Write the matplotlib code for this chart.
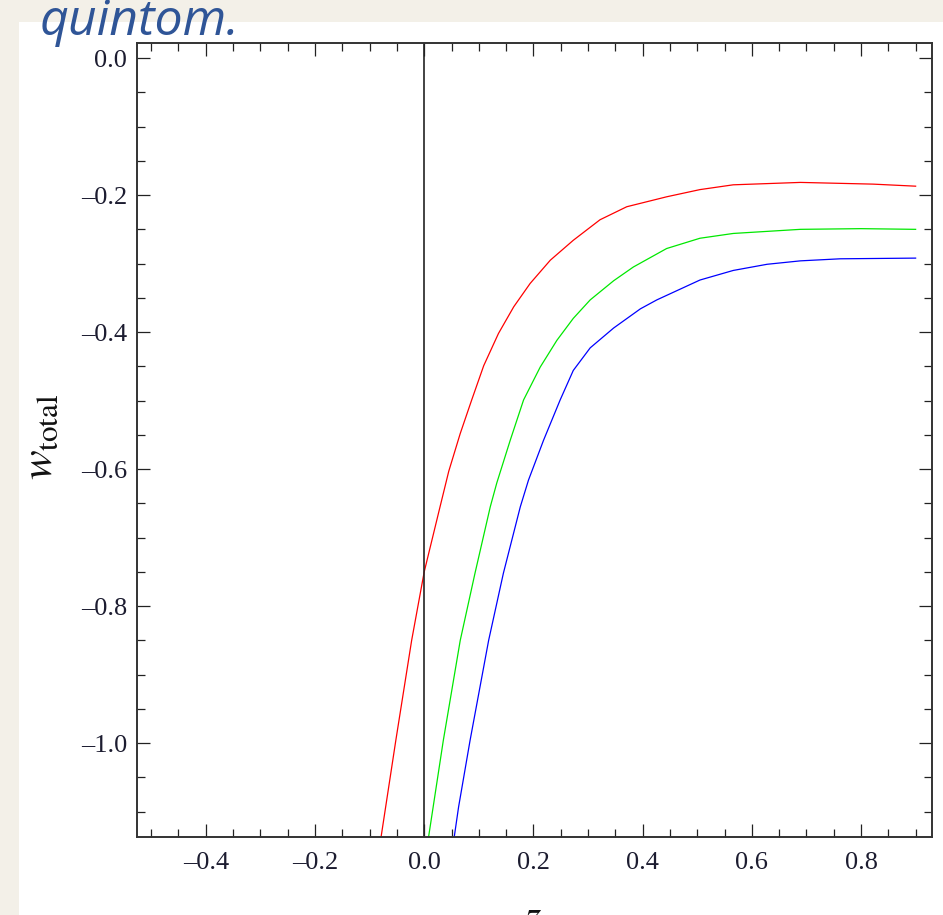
"""
w_total(z) curves for the quintom model
"""

import matplotlib.pyplot as plt
import numpy as np
from matplotlib.patches import Rectangle
from matplotlib.ticker import FuncFormatter, MultipleLocator

# values
red_z = [-0.079, -0.052, -0.023, 0.0, 0.029, 0.045, 0.066, 0.087, 0.109, 0.136,
         0.164, 0.194, 0.231, 0.273, 0.322, 0.371, 0.444, 0.505, 0.566, 0.689,
         0.822, 0.90]
red_w = [-1.137, -0.996, -0.850, -0.750, -0.655, -0.603, -0.548, -0.499, -0.449, -0.402,
         -0.363, -0.329, -0.295, -0.266, -0.236, -0.217, -0.2025, -0.192, -0.185, -0.1815,
         -0.184, -0.187]

green_z = [0.008, 0.035, 0.066, 0.093, 0.121, 0.133, 0.1575, 0.182, 0.2125, 0.243,
           0.273, 0.304, 0.347, 0.383, 0.444, 0.505, 0.566, 0.689, 0.80, 0.90]
green_w = [-1.137, -0.996, -0.850, -0.752, -0.655, -0.620, -0.558, -0.499, -0.451, -0.412,
           -0.380, -0.353, -0.325, -0.305, -0.278, -0.263, -0.256, -0.250, -0.249, -0.250]

blue_z = [0.055, 0.063, 0.084, 0.118, 0.145, 0.176, 0.191, 0.2185, 0.249, 0.273,
          0.304, 0.347, 0.396, 0.426, 0.505, 0.566, 0.628, 0.689, 0.762, 0.90]
blue_w = [-1.137, -1.093, -0.996, -0.850, -0.752, -0.655, -0.616, -0.558, -0.499, -0.456,
          -0.423, -0.394, -0.366, -0.353, -0.324, -0.310, -0.301, -0.296, -0.293, -0.292]

x_limits = (-0.526, 0.93)
y_limits = (-1.137, 0.022)

plt.rcParams["mathtext.fontset"] = "stix"

fig = plt.figure(figsize=(9.43, 9.15), dpi=100)
fig.patch.set_facecolor("#f3f0e8")
# white page area, kept behind the axes
fig.patches.append(
    Rectangle((19 / 943, 0), 1, 1 - 22 / 915, transform=fig.transFigure,
              facecolor="white", edgecolor="none", zorder=-10)
)

ax = fig.add_axes([137 / 943, 1 - 837 / 915, 795 / 943, 794 / 915])
ax.set_facecolor("white")

for zs, ws, col in [(red_z, red_w, "#ff0000"), (green_z, green_w, "#00e800"), (blue_z, blue_w, "#0000ff")]:
    ax.plot(zs, ws, color=col, lw=0.9, solid_joinstyle="round")
ax.axvline(0, color="#222222", lw=1.2)

ax.set_xlim(*x_limits)
ax.set_ylim(*y_limits)

# Mathematica-style long minus
fmt = FuncFormatter(lambda v, _: f"{v:.1f}".replace("-", "\u2013"))
ax.xaxis.set_major_locator(MultipleLocator(0.2))
ax.xaxis.set_minor_locator(MultipleLocator(0.05))
ax.yaxis.set_major_locator(MultipleLocator(0.2))
ax.yaxis.set_minor_locator(MultipleLocator(0.05))
ax.xaxis.set_major_formatter(fmt)
ax.yaxis.set_major_formatter(fmt)

ax.tick_params(which="both", direction="in", top=True, right=True, color="#222222", width=0.9)
ax.tick_params(which="major", length=9.5)
ax.tick_params(which="minor", length=5.8)
ax.tick_params(axis="x", pad=11)
ax.tick_params(axis="y", pad=7)
for lab in ax.get_xticklabels() + ax.get_yticklabels():
    lab.set_fontfamily("Liberation Serif")
    lab.set_fontsize(19)
    lab.set_color("#1c1c30")
for sp in ax.spines.values():
    sp.set_color("#333333")
    sp.set_linewidth(1.4)

fig.text(40 / 943, 1 - 437 / 915, r"$w_{\mathrm{total}}$", rotation=90,
         ha="center", va="center", fontsize=32, color="#111111")
fig.text(533 / 943, 1 - 895 / 915, r"$z$", ha="center", va="top",
         fontsize=30, color="#111111")
fig.text(40 / 943, 1 - 35 / 915, "quintom.", ha="left", va="baseline",
         fontsize=36, fontstyle="italic", family="Open Sans", color="#2f5597")

fig.savefig("out.png", dpi=100, facecolor=fig.get_facecolor())
